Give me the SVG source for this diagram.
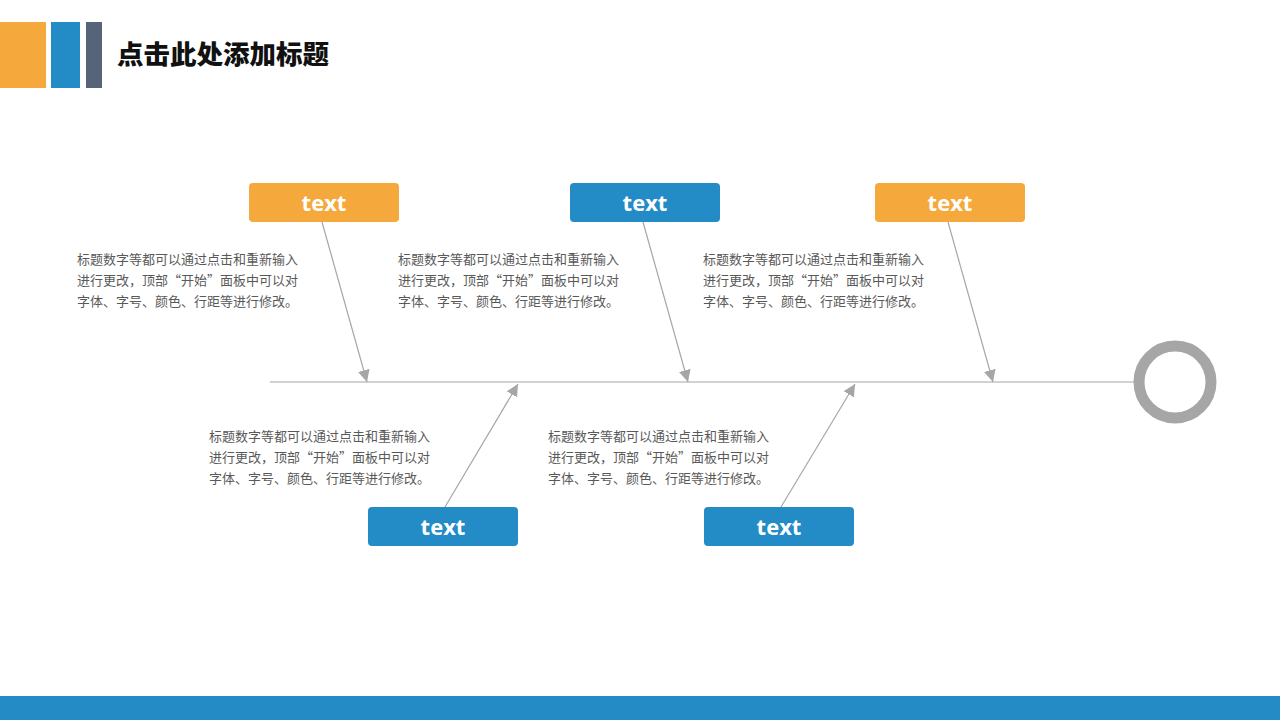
<svg xmlns="http://www.w3.org/2000/svg" width="1280" height="720" viewBox="0 0 1280 720">
<defs>
<style>
.node-o{fill:#F5A83B}
.node-b{fill:#238BC6}
.lbl{font-family:"Open Sans","Liberation Sans",sans-serif;font-weight:bold;font-size:22px;fill:#fff;text-anchor:middle}
.desc{font-family:"Noto Sans CJK SC","Noto Sans",sans-serif;font-size:13px;fill:#595959}
.conn{stroke:#a6a6a6;stroke-width:1.2;fill:none;marker-end:url(#arr)}
</style>
<marker id="arr" viewBox="0 0 10 10" refX="10" refY="5" markerWidth="12" markerHeight="12" markerUnits="userSpaceOnUse" orient="auto">
<path d="M0,0 L10,5 L0,10 z" fill="#a6a6a6"/>
</marker>
</defs>
<rect width="1280" height="720" fill="#fff"/>
<g id="header">
<rect x="0" y="22" width="46" height="66" fill="#F5A83B"/>
<rect x="51" y="22" width="29" height="66" fill="#238BC6"/>
<rect x="86" y="22" width="16" height="66" fill="#566479"/>
<text x="117" y="64" font-family="Noto Sans CJK SC,sans-serif" font-weight="900" font-size="26.5" fill="#111">点击此处添加标题</text>
</g>
<rect id="footer" x="0" y="696" width="1280" height="24" fill="#248BC5"/>
<g id="spine">
<line x1="270" y1="382" x2="1136" y2="382" stroke="#a6a6a6" stroke-width="1.2"/>
<circle cx="1175" cy="382" r="36" fill="none" stroke="#a6a6a6" stroke-width="11"/>
</g>
<g id="connectors">
<line class="conn" x1="322" y1="222" x2="367" y2="382"/>
<line class="conn" x1="643" y1="222" x2="688" y2="382"/>
<line class="conn" x1="948" y1="222" x2="993" y2="382"/>
<line class="conn" x1="445" y1="507" x2="518" y2="384"/>
<line class="conn" x1="781" y1="507" x2="855" y2="384"/>
</g>
<g id="node1">
<rect class="node-o" x="249" y="183" width="150" height="39" rx="4"/>
<text class="lbl" x="324" y="211">text</text>
</g>
<g id="node2">
<rect class="node-b" x="570" y="183" width="150" height="39" rx="4"/>
<text class="lbl" x="645" y="211">text</text>
</g>
<g id="node3">
<rect class="node-o" x="875" y="183" width="150" height="39" rx="4"/>
<text class="lbl" x="950" y="211">text</text>
</g>
<g id="node4">
<rect class="node-b" x="368" y="507" width="150" height="39" rx="4"/>
<text class="lbl" x="443" y="535">text</text>
</g>
<g id="node5">
<rect class="node-b" x="704" y="507" width="150" height="39" rx="4"/>
<text class="lbl" x="779" y="535">text</text>
</g>
<g id="desc1" class="desc">
<text x="77" y="264">标题数字等都可以通过点击和重新输入</text>
<text x="77" y="285">进行更改，顶部“开始”面板中可以对</text>
<text x="77" y="306">字体、字号、颜色、行距等进行修改。</text>
</g>
<g id="desc2" class="desc">
<text x="398" y="264">标题数字等都可以通过点击和重新输入</text>
<text x="398" y="285">进行更改，顶部“开始”面板中可以对</text>
<text x="398" y="306">字体、字号、颜色、行距等进行修改。</text>
</g>
<g id="desc3" class="desc">
<text x="703" y="264">标题数字等都可以通过点击和重新输入</text>
<text x="703" y="285">进行更改，顶部“开始”面板中可以对</text>
<text x="703" y="306">字体、字号、颜色、行距等进行修改。</text>
</g>
<g id="desc4" class="desc">
<text x="209" y="441">标题数字等都可以通过点击和重新输入</text>
<text x="209" y="462">进行更改，顶部“开始”面板中可以对</text>
<text x="209" y="483">字体、字号、颜色、行距等进行修改。</text>
</g>
<g id="desc5" class="desc">
<text x="548" y="441">标题数字等都可以通过点击和重新输入</text>
<text x="548" y="462">进行更改，顶部“开始”面板中可以对</text>
<text x="548" y="483">字体、字号、颜色、行距等进行修改。</text>
</g>
</svg>
